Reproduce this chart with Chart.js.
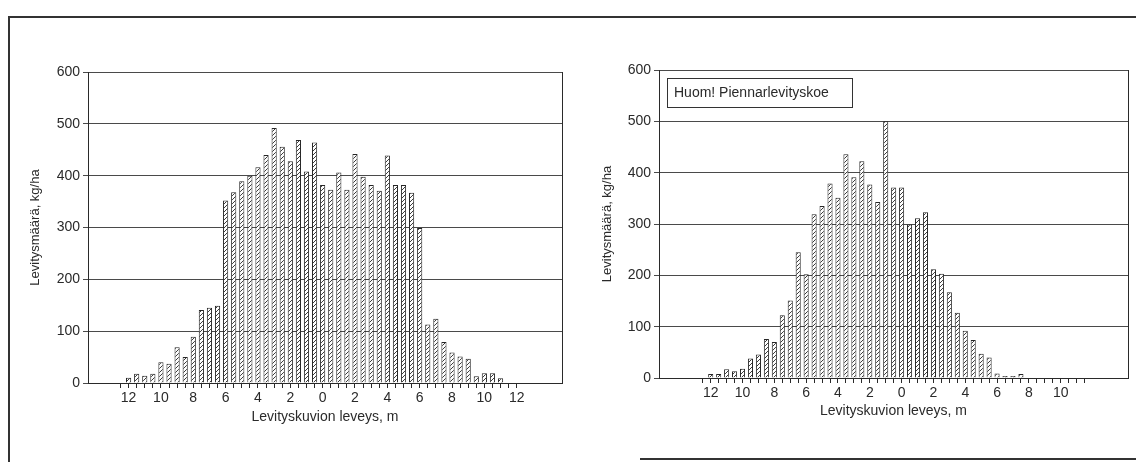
<!DOCTYPE html>
<html>
<head>
<meta charset="utf-8">
<script src="https://cdn.jsdelivr.net/npm/chart.js@4.4.0/dist/chart.umd.min.js"></script>
<style>
    body { margin: 0; background: #fff; width: 1136px; height: 462px; overflow: hidden; position: relative; }
    .line { position: absolute; background: #333; }
    .box { position: absolute; top: 0; height: 462px; }
    #left { left: 0; width: 575px; }
    #right { left: 575px; width: 561px; }
</style>
</head>
<body>
<div class="line" style="left:8px;top:16px;width:1128px;height:2px"></div>
<div class="line" style="left:8px;top:16px;width:2px;height:446px"></div>
<div class="line" style="left:640px;top:458px;width:496px;height:2px"></div>
<div class="box" id="left"><canvas id="leftChart"></canvas></div>
<div class="box" id="right"><canvas id="rightChart"></canvas></div>
<script>
// bar positions in metres (left side negative) and spread rates kg/ha
const leftPositions = [-12, -11.5, -11, -10.5, -10, -9.5, -9, -8.5, -8, -7.5, -7, -6.5, -6, -5.5, -5, -4.5,
    -4, -3.5, -3, -2.5, -2, -1.5, -1, -0.5, 0, 0.5, 1, 1.5, 2, 2.5, 3, 3.5, 4, 4.5, 5, 5.5,
    6, 6.5, 7, 7.5, 8, 8.5, 9, 9.5, 10, 10.5, 11];
const leftValues = [10, 18, 14, 18, 40, 37, 69, 50, 89, 141, 145, 149, 352, 368, 389, 400,
    416, 440, 492, 456, 428, 469, 408, 464, 382, 373, 406, 373, 442, 398, 382, 371, 439, 382, 382, 367,
    299, 113, 124, 79, 59, 51, 47, 13, 19, 19, 9];

const rightPositions = [-12, -11.5, -11, -10.5, -10, -9.5, -9, -8.5, -8, -7.5, -7, -6.5, -6, -5.5, -5, -4.5,
    -4, -3.5, -3, -2.5, -2, -1.5, -1, -0.5, 0, 0.5, 1, 1.5, 2, 2.5, 3, 3.5, 4, 4.5, 5, 5.5,
    6, 6.5, 7, 7.5];
const rightValues = [8, 8, 17, 13, 18, 38, 46, 76, 70, 122, 151, 245, 202, 319, 335, 379,
    351, 436, 391, 422, 377, 343, 500, 371, 371, 299, 311, 323, 212, 203, 167, 127, 92, 74, 47, 40,
    9, 4, 4, 8];

const leftLabelValues = [-12, -10, -8, -6, -4, -2, 0, 2, 4, 6, 8, 10, 12];
const leftLabels = ['12', '10', '8', '6', '4', '2', '0', '2', '4', '6', '8', '10', '12'];
const rightLabelValues = [-12, -10, -8, -6, -4, -2, 0, 2, 4, 6, 8, 10];
const rightLabels = ['12', '10', '8', '6', '4', '2', '0', '2', '4', '6', '8', '10'];

const yTitle = 'Levitysmäärä, kg/ha';
const xTitle = 'Levityskuvion leveys, m';
const noteText = 'Huom! Piennarlevityskoe';

const ink = '#2a2a2a';
Chart.defaults.font.family = '"Liberation Sans", Arial, Helvetica, sans-serif';
Chart.defaults.color = ink;

function hatchPattern() {
    const c = document.createElement('canvas');
    c.width = 4;
    c.height = 4;
    const g = c.getContext('2d');
    g.fillStyle = '#fff';
    g.fillRect(0, 0, 4, 4);
    g.strokeStyle = '#3c3c3c';
    g.lineWidth = 1;
    g.beginPath();
    g.moveTo(0, 4);
    g.lineTo(4, 0);
    g.stroke();
    return g.createPattern(c, 'repeat');
}

// framed note in the upper left of the plot
const noteBox = {
    id: 'noteBox',
    afterDraw(chart, args, opts) {
        if (!opts.text) return;
        const { ctx, chartArea } = chart;
        ctx.save();
        ctx.font = '14px "Liberation Sans", Arial, sans-serif';
        const x = chartArea.left + opts.dx;
        const y = chartArea.top + opts.dy;
        ctx.fillStyle = '#fff';
        ctx.fillRect(x, y, opts.w, opts.h);
        ctx.strokeStyle = '#333';
        ctx.lineWidth = 1;
        ctx.strokeRect(x + 0.5, y + 0.5, opts.w, opts.h);
        ctx.fillStyle = ink;
        ctx.textBaseline = 'middle';
        ctx.fillText(opts.text, x + 7, y + opts.h / 2 + 1);
        ctx.restore();
    }
};

function makeChart(id, positions, values, labelValues, labels, cfg) {
    const tickPos = [];
    for (let v = cfg.tickFrom; v <= cfg.tickTo + 1e-9; v += 0.5) tickPos.push(v);

    return new Chart(document.getElementById(id), {
        type: 'bar',
        data: {
            datasets: [{
                data: positions.map((p, i) => ({ x: p, y: values[i] })),
                backgroundColor: hatchPattern(),
                borderColor: '#262626',
                borderWidth: 1,
                barPercentage: 0.64,
                categoryPercentage: 1
            }]
        },
        options: {
            responsive: true,
            maintainAspectRatio: false,
            animation: false,
            events: [],
            layout: { padding: cfg.padding },
            plugins: {
                legend: { display: false },
                tooltip: { enabled: false },
                noteBox: cfg.note || {}
            },
            scales: {
                x: {
                    type: 'linear',
                    min: cfg.xMin,
                    max: cfg.xMax,
                    offset: false,
                    afterBuildTicks: s => { s.ticks = tickPos.map(v => ({ value: v })); },
                    afterFit: s => { s.height = cfg.xHeight; },
                    grid: { drawOnChartArea: false, drawTicks: true, tickLength: 5, color: ink },
                    border: { display: true, color: ink, width: 1 },
                    ticks: {
                        autoSkip: false,
                        maxRotation: 0,
                        padding: 2,
                        labelOffset: 4,
                        color: ink,
                        font: { size: 14 },
                        callback: v => {
                            const i = labelValues.indexOf(v + 0.25);
                            return i >= 0 ? labels[i] : '';
                        }
                    },
                    title: { display: true, text: xTitle, color: ink, font: { size: 14 }, padding: { top: 0, bottom: 0 } }
                },
                y: {
                    min: 0,
                    max: 600,
                    afterFit: s => { s.width = cfg.yWidth; },
                    ticks: { stepSize: 100, padding: 3, color: ink, font: { size: 14 } },
                    grid: { color: '#4a4a4a', lineWidth: 1, tickLength: 5 },
                    border: { display: true, color: ink, width: 1 },
                    title: { display: true, text: yTitle, color: ink, font: { size: 13 }, padding: { top: 0, bottom: 0 } }
                },
                yr: {
                    position: 'right',
                    min: 0,
                    max: 600,
                    afterFit: s => { s.width = 0; },
                    ticks: { display: false },
                    grid: { display: false, drawTicks: false },
                    border: { display: true, color: ink, width: 1 }
                }
            }
        },
        plugins: [noteBox]
    });
}

makeChart('leftChart', leftPositions, leftValues, leftLabelValues, leftLabels, {
    xMin: -14.51, xMax: 14.8, tickFrom: -12.25, tickTo: 11.75,
    yWidth: 60, xHeight: 43,
    padding: { left: 28, top: 72, right: 13, bottom: 36 }
});

makeChart('rightChart', rightPositions, rightValues, rightLabelValues, rightLabels, {
    xMin: -15.25, xMax: 14.23, tickFrom: -12.25, tickTo: 11.25,
    yWidth: 59, xHeight: 42,
    padding: { left: 25, top: 70, right: 8, bottom: 42 },
    note: { text: noteText, dx: 8, dy: 8, w: 185, h: 29 }
});
</script>
</body>
</html>
